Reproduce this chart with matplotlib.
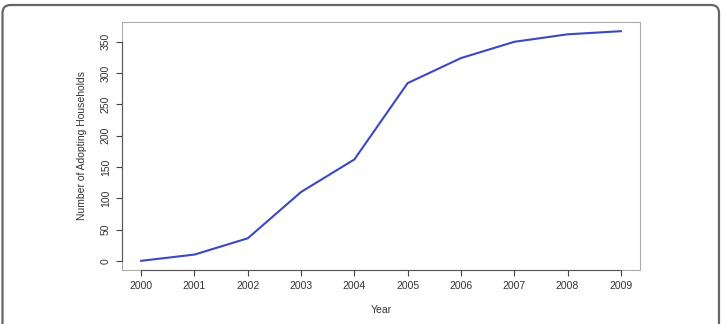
import matplotlib
matplotlib.use("Agg")
import matplotlib.pyplot as plt
from matplotlib.patches import PathPatch, Rectangle
from matplotlib.path import Path

# data
years = [2000, 2001, 2002, 2003, 2004, 2005, 2006, 2007, 2008, 2009]
households = [0, 10, 36, 110, 162, 284, 324, 350, 362, 367]
y_ticks = [0, 50, 100, 150, 200, 250, 300, 350]

plt.rcParams['font.family'] = ['Liberation Sans', 'DejaVu Sans']

W, H = 724, 324
fig = plt.figure(figsize=(W / 100, H / 100), dpi=100)
ax = fig.add_axes([122 / W, 1 - 270 / H, (640 - 122) / W, (270 - 22) / H])

ax.plot(years, households, color='#3b48c4', lw=1.5, solid_joinstyle='miter')
ax.margins(x=0.04, y=0.04)

ax.set_xticks(years)
ax.set_yticks(y_ticks)
ax.set_yticklabels([str(v) for v in y_ticks], rotation=90, va='center')
ax.tick_params(direction='out', length=4, width=0.8, color='#444444',
               labelsize=7.5, labelcolor='#333333', pad=4)

# R-style: light box, darker axis lines spanning the ticks
for side in ['top', 'right']:
    ax.spines[side].set_visible(False)
ax.add_patch(Rectangle((0, 0), 1, 1, transform=ax.transAxes, fill=False,
                       ec='#aaaaaa', lw=0.8, clip_on=False, zorder=0))
ax.spines['bottom'].set_bounds(years[0], years[-1])
ax.spines['left'].set_bounds(y_ticks[0], y_ticks[-1])
for side in ['bottom', 'left']:
    ax.spines[side].set_color('#555555')
    ax.spines[side].set_linewidth(0.8)

ax.set_xlabel('Year', fontsize=7.5, color='#333333', labelpad=10)
ax.set_ylabel('Number of Adopting Households', fontsize=7.5, color='#333333',
              labelpad=10)

# outer frame: open at the bottom (runs off the image), rounded top corners
x0, x1, top, r = 2.5, 719.0, H - 5.0, 8.0
bottom = -10
verts = [(x0, bottom), (x0, top - r), (x0, top), (x0 + r, top),
         (x1 - r, top), (x1, top), (x1, top - r), (x1, bottom)]
codes = [Path.MOVETO, Path.LINETO, Path.CURVE3, Path.CURVE3,
         Path.LINETO, Path.CURVE3, Path.CURVE3, Path.LINETO]
frame = PathPatch(Path(verts, codes), transform=None, fill=False,
                  ec='#666666', lw=1.6)
fig.patches.append(frame)

fig.savefig('out.png', dpi=100)
